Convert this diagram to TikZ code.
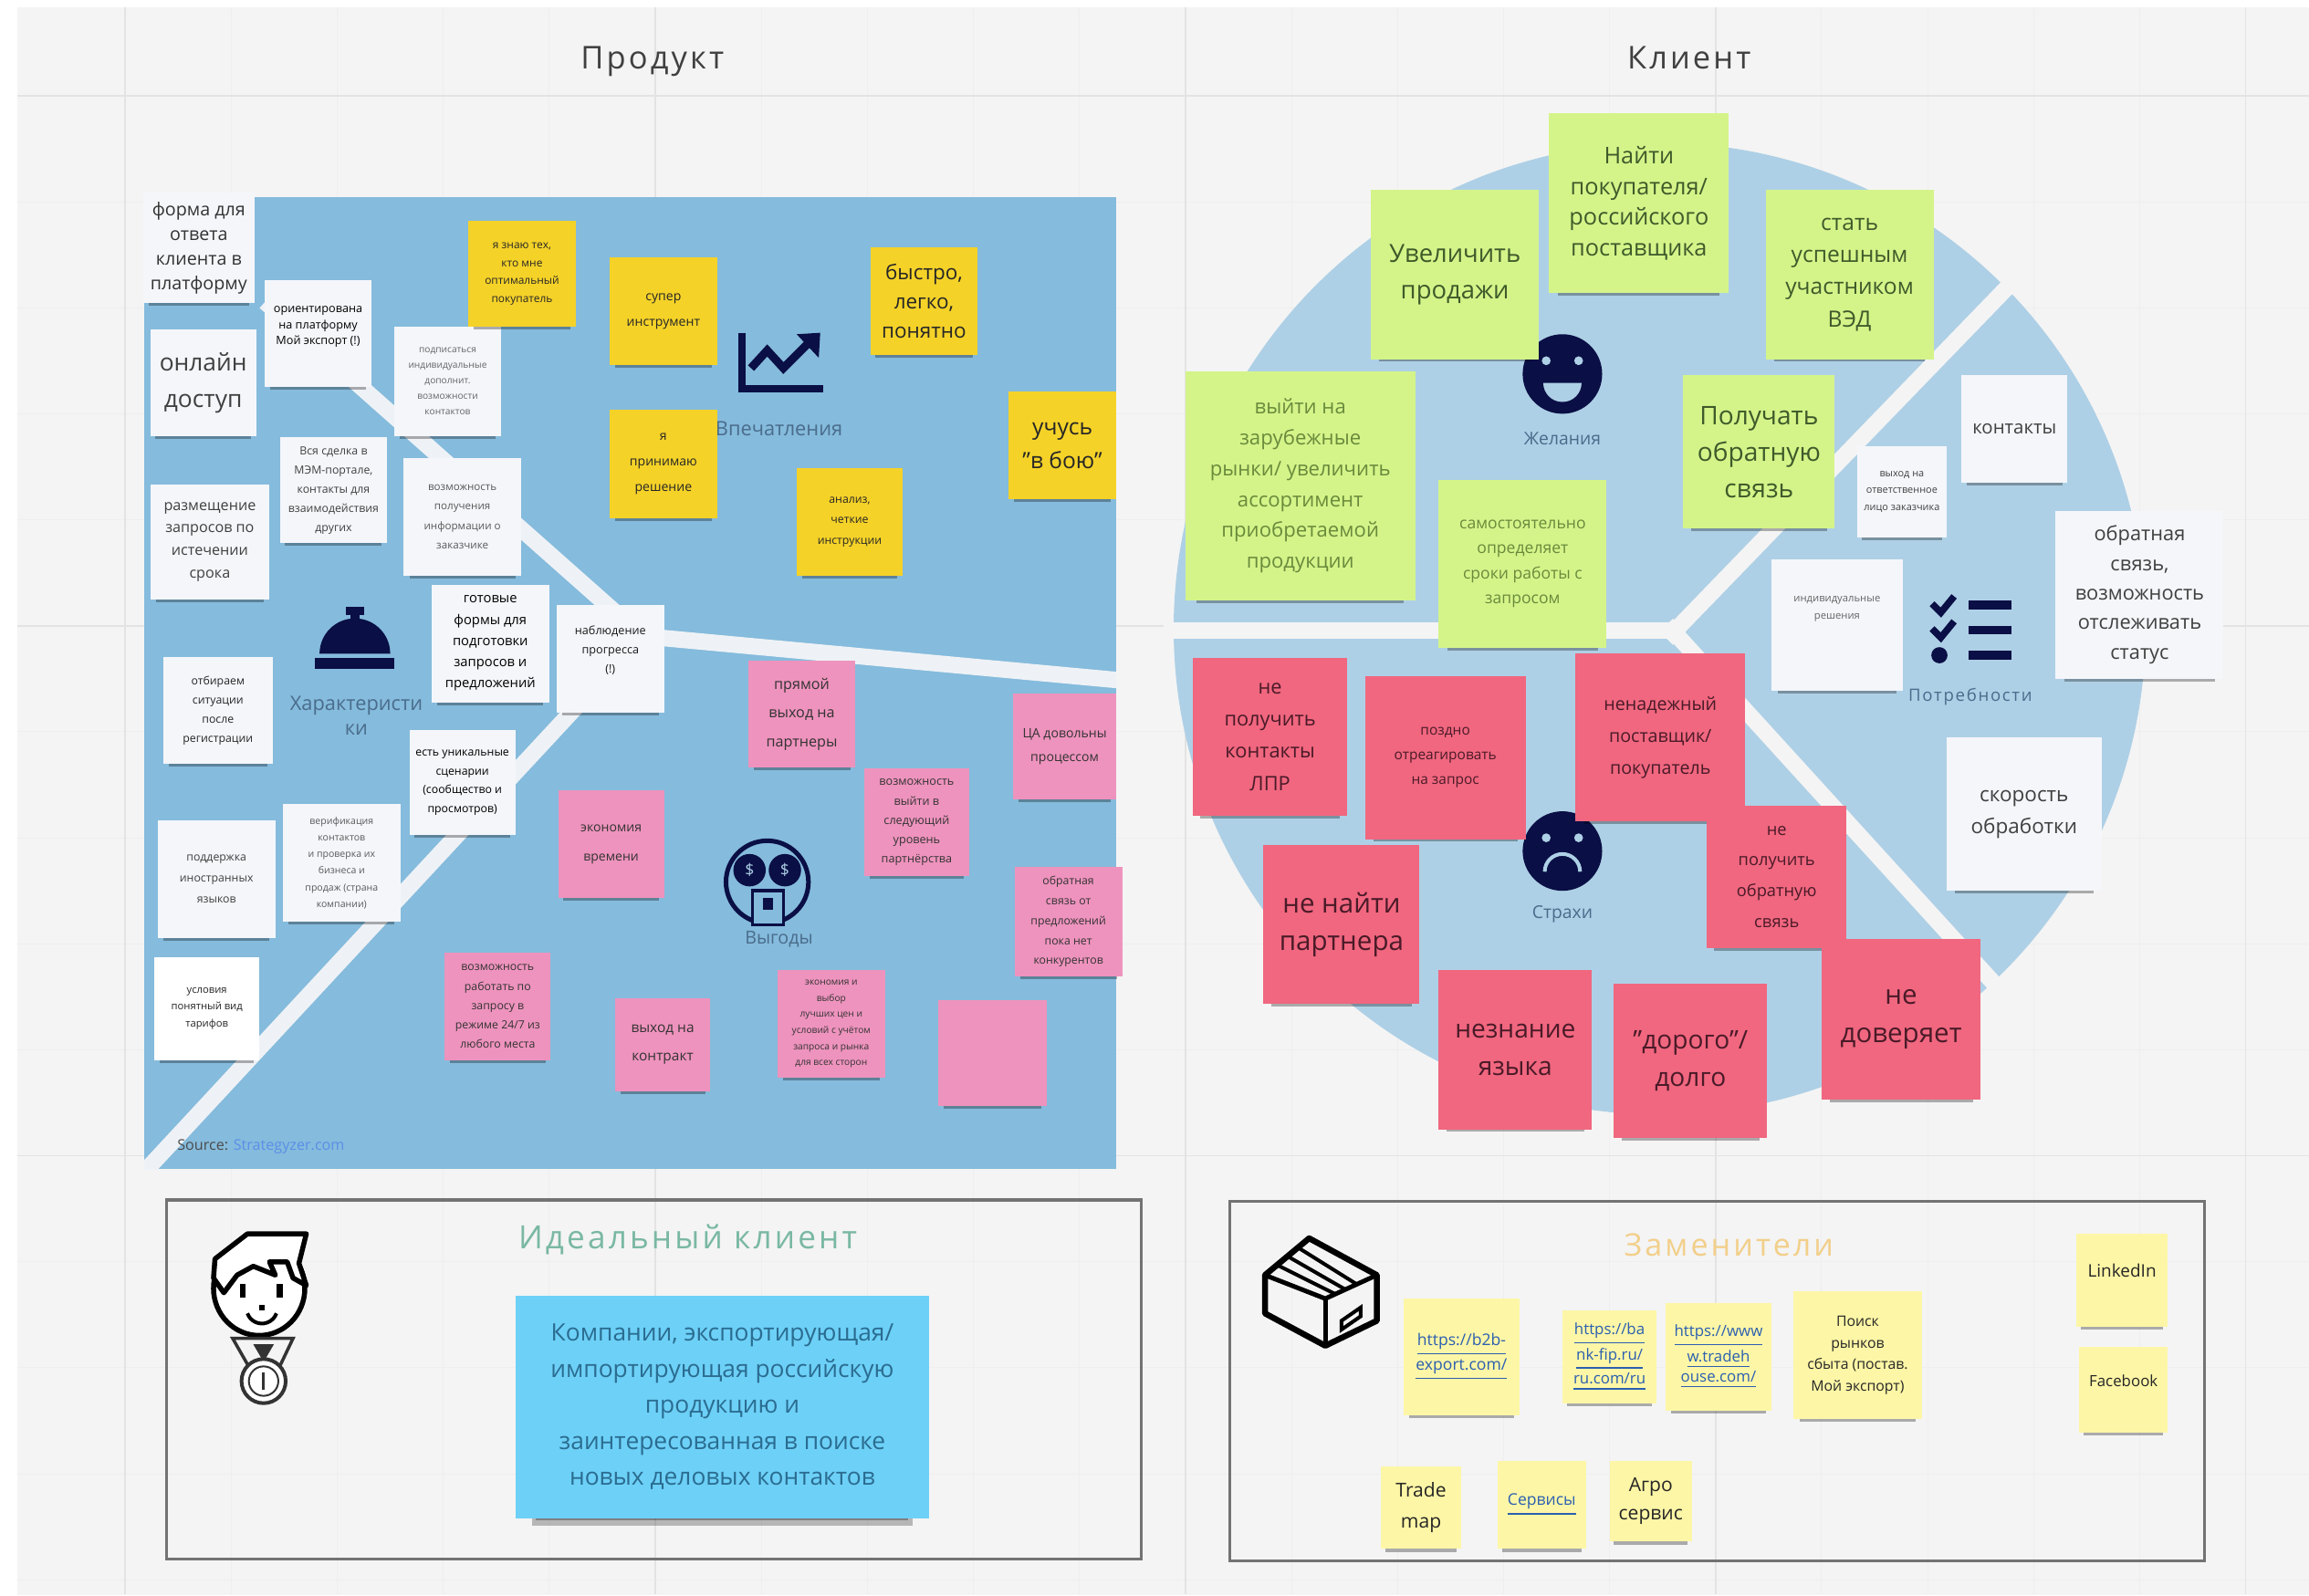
\documentclass[tikz,border=0pt]{standalone}
\usepackage{fontspec}
\setmainfont{Open Sans}
\newfontfamily\spaced[LetterSpace=9]{Open Sans}
\usetikzlibrary{shadows}
\definecolor{boardgray}{HTML}{F4F4F4}
\definecolor{gridgray}{HTML}{E3E3E3}
\definecolor{finegray}{HTML}{EEEEEE}
\definecolor{squareblue}{HTML}{85BBDC}
\definecolor{circleblue}{HTML}{AED0E6}
\definecolor{bandwhite}{HTML}{EEF2F6}
\definecolor{iconnavy}{HTML}{0A0F45}
\definecolor{labelblue}{HTML}{4A6C8C}
\definecolor{yellownote}{HTML}{F5D228}
\definecolor{pinknote}{HTML}{EE93BD}
\definecolor{greennote}{HTML}{D4F48A}
\definecolor{greentext}{HTML}{3F5A2A}
\definecolor{softgreentext}{HTML}{6A8A3C}
\definecolor{rednote}{HTML}{F0677F}
\definecolor{redtext}{HTML}{4A1A28}
\definecolor{whitenote}{HTML}{F4F6FA}
\definecolor{lemonnote}{HTML}{FDF6A6}
\definecolor{skynote}{HTML}{6DD0F7}
\definecolor{skytext}{HTML}{2A6C90}
\definecolor{linkblue}{HTML}{2B5FB0}
\definecolor{sourceblue}{HTML}{5A8FE8}
\definecolor{idealgreen}{HTML}{7AB8A3}
\definecolor{subyellow}{HTML}{F2CF8A}
\def\pxu{0.16135mm}
\tikzset{
  note/.style={rectangle, align=center, inner sep=0pt, text=black!75},
  sz/.style 2 args={minimum width=#1*\pxu, minimum height=#2*\pxu,
    general shadow={shadow scale=.9, shadow xshift=0pt, shadow yshift=-(#2*.05*\pxu+.4mm), fill=black, opacity=.3}},
  fs/.style 2 args={font=\fontsize{#1}{#2}\selectfont},
  wnote/.style={note, fill=whitenote},
  ynote/.style={note, fill=yellownote, text=black!85},
  pnote/.style={note, fill=pinknote, text=black!80},
  gnote/.style={note, fill=greennote, text=greentext},
  rnote/.style={note, fill=rednote, text=redtext},
  lnote/.style={note, fill=lemonnote, text=black!85},
  seclabel/.style={text=labelblue, align=center, inner sep=0pt},
  sectitle/.style={font=\spaced\fontsize{9.8}{13}\selectfont, text=black!75, inner sep=0pt, anchor=base},
  frametitle/.style={font=\spaced\fontsize{#1}{13}\selectfont, inner sep=0pt, anchor=base},
  framebox/.style={draw=black!55, line width=0.35mm},
  band/.style={line width=1.8mm},
}
\begin{document}
\begin{tikzpicture}[x=\pxu, y=-\pxu]
\useasboundingbox (0,0) rectangle (1568,1083.4);
\fill [white] (0,0) rectangle (1568,1083.4);
\fill [boardgray] (12,5) rectangle (1568,1083.4);
\foreach \gx in {157,229,301,373,517,589,661,733,877,949,1021,1093,1237,1309,1381,1453}
  \draw [finegray, line width=0.1mm] (\gx,5) -- (\gx,1083);
\foreach \gy in {137,209,281,353,497,569,641,713,857,929,1001,1073}
  \draw [finegray, line width=0.1mm] (12,\gy) -- (1568,\gy);
\foreach \gx in {85,445,805,1165,1525}
  \draw [gridgray, line width=0.15mm] (\gx,5) -- (\gx,1083);
\foreach \gy in {65,425,785}
  \draw [gridgray, line width=0.15mm] (12,\gy) -- (1568,\gy);

\node [sectitle] (product) at (443,47) {Продукт};
\node [sectitle] (client) at (1147,47) {Клиент};

% square
\fill [squareblue] (98,134) rectangle (758,794);
\begin{scope}
\clip (98,134) rectangle (758,794);
\draw [bandwhite, band] (180,205) -- (436,432);
\draw [bandwhite, band] (98,796) -- (436,432);
\draw [bandwhite, band] (436,432) -- (760,462);
\end{scope}

% circle
\fill [circleblue] (1127,427) circle [radius=330];
\draw [boardgray, band] (790,428) -- (1137,428);
\draw [boardgray, band] (1132,434) -- (1370,188);
\draw [boardgray, band] (1132,424) -- (1356,670);

% bell
\fill [iconnavy] (217,444) arc (180:360:24) -- cycle;
\fill [iconnavy] (235,412) rectangle (247,418);
\fill [iconnavy] (238,416) rectangle (244,422);
\fill [iconnavy] (214,447) rectangle (268,454);
\node [seclabel, fs={6.2}{7.6}] (traits) at (242,486) {Характеристи\\ки};

% chart
\draw [iconnavy, line width=0.8mm] (504,226) -- (504,264) -- (559,264);
\draw [iconnavy, line width=0.9mm] (510,250) -- (521,238) -- (532,250) -- (548,234);
\fill [iconnavy] (541,227) -- (557,226) -- (556,243) -- cycle;
\node [seclabel, fs={6.2}{7}] (impress) at (529,291) {Впечатления};

% money face
\draw [iconnavy, line width=0.5mm] (521,599) circle [radius=28];
\fill [iconnavy] (509,591) circle [radius=11];
\fill [iconnavy] (533,591) circle [radius=11];
\node [text=circleblue, inner sep=0pt, fs={5}{6}] (eyeleft) at (509,591) {\$};
\node [text=circleblue, inner sep=0pt, fs={5}{6}] (eyeright) at (533,591) {\$};
\draw [iconnavy, line width=0.35mm, fill=squareblue] (511,605) rectangle (532,628);
\fill [iconnavy] (518,610) rectangle (525,618);
\node [seclabel, fs={5.6}{7}] (gains) at (529,638) {Выгоды};

% faces
\fill [iconnavy] (1061,254) circle [radius=27];
\fill [circleblue] (1050,245) circle [radius=3];
\fill [circleblue] (1072,245) circle [radius=3];
\fill [circleblue] (1048,260) arc (180:0:13) -- cycle;
\node [seclabel, fs={5.5}{7}] (wishes) at (1061,298) {Желания};
\fill [iconnavy] (1061,578) circle [radius=27];
\fill [circleblue] (1050,569) circle [radius=3];
\fill [circleblue] (1072,569) circle [radius=3];
\draw [circleblue, line width=0.4mm] (1049,592) arc (180:360:12);
\node [seclabel, fs={5.5}{7}] (fears) at (1061,621) {Страхи};

% checklist
\fill [iconnavy] (1337,408) rectangle (1366,414);
\fill [iconnavy] (1337,425) rectangle (1366,431);
\fill [iconnavy] (1337,442) rectangle (1366,448);
\draw [iconnavy, line width=0.75mm] (1312,410) -- (1318,416) -- (1327,405);
\draw [iconnavy, line width=0.75mm] (1312,427) -- (1318,433) -- (1327,422);
\fill [iconnavy] (1317,445) circle [radius=5.5];
\node [seclabel, font=\spaced\fontsize{5.3}{7}\selectfont] (needs) at (1338,473) {Потребности};

% notes of the square
\node [wnote, sz={76}{75}, fs={5.6}{7.6}, text=black!80] (formnote) at (135,168.5) {форма для\\ответа\\клиента в\\платформу};
\node [wnote, sz={72}{73}, fs={3.6}{5}, text=black] (orientnote) at (216,226.5) {ориентирована\\на платформу\\Мой экспорт (!)\\ };
\node [wnote, sz={72}{74}, fs={2.9}{4.8}, text=black!60] (personalnote) at (304,259) {подписаться\\индивидуальные\\дополнит.\\возможности\\контактов};
\node [wnote, sz={72}{72}, fs={7.5}{11.5}] (onlinenote) at (138,260) {онлайн\\доступ};
\node [wnote, sz={81}{78}, fs={4.6}{7}] (querynote) at (142.5,368) {размещение\\запросов по\\истечении\\срока};
\node [wnote, sz={73}{72}, fs={3.5}{6}] (dealnote) at (226.5,333) {Вся сделка в\\МЭМ-портале,\\контакты для\\взаимодействия\\других};
\node [wnote, sz={80}{80}, fs={3.3}{6}, text=black!65] (infonote) at (314,351) {возможность\\получения\\информации о\\заказчике};
\node [wnote, sz={80}{80}, fs={4.2}{6.6}, text=black] (templatenote) at (333,437) {готовые\\формы для\\подготовки\\запросов и\\предложений};
\node [wnote, sz={73}{73}, fs={3.6}{6}, text=black!90] (watchnote) at (414.5,447.5) {наблюдение\\прогресса\\(!)\\ };
\node [wnote, sz={74}{73}, fs={3.5}{6}, text=black!85] (selectnote) at (148,482.5) {отбираем\\ситуации\\после\\регистрации};
\node [wnote, sz={72}{71}, fs={3.5}{5.8}, text=black] (uniquenote) at (314,531.5) {есть уникальные\\сценарии\\(сообщество и\\просмотров)};
\node [wnote, sz={80}{80}, fs={3.5}{6.6}] (languagenote) at (147,597) {поддержка\\иностранных\\языков};
\node [wnote, sz={80}{80}, fs={3}{5.2}, text=black!65] (verifynote) at (232,586) {верификация\\контактов\\и проверка их\\бизнеса и\\продаж (страна\\компании)};
\node [wnote, fill=white, sz={71}{70}, fs={3.2}{5.2}, text=black!85] (termsnote) at (140.5,685) {условия\\понятный вид\\тарифов};

\node [ynote, sz={73}{72}, fs={3.4}{5.6}] (expertnote) at (354.5,186) {я знаю тех,\\кто мне\\оптимальный\\покупатель};
\node [ynote, sz={73}{73}, fs={4}{8}] (toolnote) at (450.5,211.5) {супер\\инструмент};
\node [ynote, sz={73}{73}, fs={6.4}{9}] (easynote) at (627.5,204.5) {быстро,\\легко,\\понятно};
\node [ynote, sz={73}{74}, fs={4}{8}] (decidenote) at (450.5,315) {я\\принимаю\\решение};
\node [ynote, sz={72}{73}, fs={3.5}{6.4}] (analysisnote) at (577,354.5) {анализ,\\четкие\\инструкции};
\node [ynote, sz={73}{73}, fs={7}{10.5}] (learnnote) at (721.5,302.5) {учусь\\"в бою"};

\node [pnote, sz={73}{72}, fs={4.6}{9}] (directnote) at (544.5,485) {прямой\\выход на\\партнеры};
\node [pnote, sz={70}{72}, fs={4}{7.5}] (audiencenote) at (723,507) {ЦА довольны\\процессом};
\node [pnote, sz={71}{73}, fs={3.6}{6}] (levelnote) at (622.5,558.5) {возможность\\выйти в\\следующий\\уровень\\партнёрства};
\node [pnote, sz={72}{73}, fs={4}{9}] (timenote) at (415,573.5) {экономия\\времени};
\node [pnote, sz={73}{74}, fs={3.5}{6.2}] (feedbacknote) at (725.5,626) {обратная\\связь от\\предложений\\пока нет\\конкурентов};
\node [pnote, sz={72}{73}, fs={3.5}{6}] (anywherenote) at (338,683.5) {возможность\\работать по\\запросу в\\режиме 24/7 из\\любого места};
\node [pnote, sz={64}{63}, fs={4.4}{9}] (contractnote) at (450,709.5) {выход на\\контракт};
\node [pnote, sz={73}{73}, fs={2.9}{5}] (savingnote) at (564.5,695.5) {экономия и\\выбор\\лучших цен и\\условий с учётом\\запроса и рынка\\для всех сторон};
\node [pnote, sz={74}{72}] (emptynote) at (674,715) {};

% notes of the circle
\node [gnote, sz={122}{122}, fs={7.2}{9.6}] (findnote) at (1113,138) {Найти\\покупателя/\\российского\\поставщика};
\node [gnote, sz={114}{115}, fs={7.8}{11.5}] (salesnote) at (988,186.5) {Увеличить\\продажи};
\node [gnote, sz={114}{115}, fs={7}{10}] (vednote) at (1256,186.5) {стать\\успешным\\участником\\ВЭД};
\node [gnote, sz={156}{156}, fs={6.3}{9.6}, text=softgreentext] (marketnote) at (883,330) {выйти на\\зарубежные\\рынки/ увеличить\\ассортимент\\приобретаемой\\продукции};
\node [gnote, sz={114}{114}, fs={5}{7.8}, text=softgreentext] (selfnote) at (1034,383) {самостоятельно\\определяет\\сроки работы с\\запросом};
\node [gnote, sz={103}{104}, fs={8}{11.4}] (replynote) at (1194.5,307) {Получать\\обратную\\связь};

\node [wnote, sz={72}{73}, fs={5.8}{7}] (contactnote) at (1368,291.5) {контакты};
\node [wnote, sz={61}{62}, fs={3.1}{5.2}] (accessnote) at (1291.5,334) {выход на\\ответственное\\лицо заказчика};
\node [wnote, sz={89}{89}, fs={3.2}{5.4}, text=black!60] (solutionnote) at (1247.5,424.5) {индивидуальные\\решения\\ \\ };
\node [wnote, sz={114}{114}, fs={6.2}{9.2}] (statusnote) at (1453,404) {обратная\\связь,\\возможность\\отслеживать\\статус};
\node [wnote, sz={105}{104}, fs={6.4}{10}] (speednote) at (1374.5,553) {скорость\\обработки};

\node [rnote, sz={105}{107}, fs={6.2}{10}] (lprnote) at (862.5,500.5) {не\\получить\\контакты\\ЛПР};
\node [rnote, sz={109}{111}, fs={4.4}{7.8}] (latenote) at (981.5,514.5) {поздно\\отреагировать\\на запрос};
\node [rnote, sz={115}{114}, fs={5.6}{10}] (unreliablenote) at (1127.5,501) {ненадежный\\поставщик/\\покупатель};
\node [rnote, sz={95}{97}, fs={5.2}{9.6}] (noreplynote) at (1206.5,595.5) {не\\получить\\обратную\\связь};
\node [rnote, sz={106}{108}, fs={8.4}{11.5}] (partnernote) at (911,628) {не найти\\партнера};
\node [rnote, sz={104}{108}, fs={8}{11.5}] (langnote) at (1029,713) {незнание\\языка};
\node [rnote, sz={104}{105}, fs={8}{11.5}] (costnote) at (1148,720.5) {"дорого"/\\долго};
\node [rnote, sz={108}{109}, fs={8.4}{12}] (trustnote) at (1291,692.5) {не\\доверяет};

\node [seclabel, anchor=west, fs={4.6}{5}] (source) at (120,779) {\textcolor{black!70}{Source:} \textcolor{sourceblue}{Strategyzer.com}};

% lower frames
\draw [framebox] (113,815) rectangle (775,1059);
\draw [framebox] (835,816) rectangle (1497,1060);
\node [frametitle=10, text=idealgreen] (idealtitle) at (467,848) {Идеальный клиент};
\node [frametitle=9.7, text=subyellow] (subtitle) at (1174,853) {Заменители};

% boy with medal
\draw [black, line width=0.55mm, fill=white] (176,875) circle [x radius=31, y radius=32];
\draw [black, line width=0.55mm, fill=white, line join=round] (145,868) -- (146,855) -- (168,838) -- (208,838) -- (203,858) -- (208,873) -- (199,868) -- (195,857) -- (183,857) -- (187,866) -- (172,860) -- (161,866) -- (152,878) -- cycle;
\fill [black] (163,872) rectangle (167,881);
\fill [black] (188,872) rectangle (192,881);
\fill [black] (176,886) rectangle (180,890);
\draw [black, line width=0.4mm] (168,892) arc (160:20:10.5);
\draw [black!80, line width=0.35mm] (158,909) -- (199,909) -- (189,930) -- (170,930) -- cycle;
\fill [black!80] (172,913) -- (186,913) -- (179,925) -- cycle;
\draw [black!80, line width=0.4mm, fill=white] (179,938) circle [radius=15];
\draw [black!80, line width=0.2mm] (179,938) circle [radius=10];
\fill [black!80] (178,932) rectangle (180,944);

% box
\draw [black, line width=0.65mm, line join=round] (889,841) -- (935,866) -- (935,897) -- (900,914) -- (859,892) -- (859,866) -- cycle;
\draw [black, line width=0.5mm] (859,866) -- (900,882) -- (935,866);
\draw [black, line width=0.5mm] (900,882) -- (900,914);
\draw [black, line width=0.4mm] (867,859) -- (907,879);
\draw [black, line width=0.4mm] (874,853) -- (914,876);
\draw [black, line width=0.4mm] (881,847) -- (921,872);
\draw [black, line width=0.4mm] (911,897) -- (924,888) -- (924,894) -- (911,903) -- cycle;

\node [note, fill=skynote, text=skytext, sz={281}{151}, fs={7.5}{11.2},
  general shadow={shadow scale=.92, shadow xshift=0pt, shadow yshift=-(151*.04*\pxu+1mm), fill=black, opacity=.25}] (clientnote) at (490.5,955.5) {Компании, экспортирующая/\\импортирующая российскую\\продукцию и\\заинтересованная в поиске\\новых деловых контактов};

\node [lnote, sz={79}{79}, fs={5}{6.4}, text=linkblue] (linkone) at (992.5,921.5) {\underline{https://b2b-}\\\underline{export.com/}};
\node [lnote, sz={64}{63}, fs={4.8}{6.4}, text=linkblue] (linktwo) at (1093,921.5) {\underline{https://ba}\\\underline{nk-fip.ru/}\\\underline{ru.com/ru}};
\node [lnote, sz={72}{73}, fs={4.8}{6.4}, text=linkblue] (linkthree) at (1167,921.5) {\underline{https://www}\\\underline{w.tradeh}\\\underline{ouse.com/}};
\node [lnote, sz={87}{87}, fs={4.5}{6.8}] (searchnote) at (1261.5,920.5) {Поиск\\рынков\\сбыта (постав.\\Мой экспорт)};
\node [lnote, sz={62}{63}, fs={5.4}{6}] (linkedin) at (1441,869.5) {LinkedIn\\ };
\node [lnote, sz={60}{58}, fs={4.8}{6}] (facebook) at (1442,944) {Facebook\\ };
\node [lnote, sz={54}{56}, fs={6}{9.8}] (trademap) at (965,1024) {Trade\\map};
\node [lnote, sz={60}{60}, fs={5}{6}, text=linkblue] (servicenote) at (1047,1022) {\underline{Сервисы}};
\node [lnote, sz={56}{55}, fs={6}{8.6}] (agronote) at (1121,1019.5) {Агро\\сервис};
\end{tikzpicture}
\end{document}
